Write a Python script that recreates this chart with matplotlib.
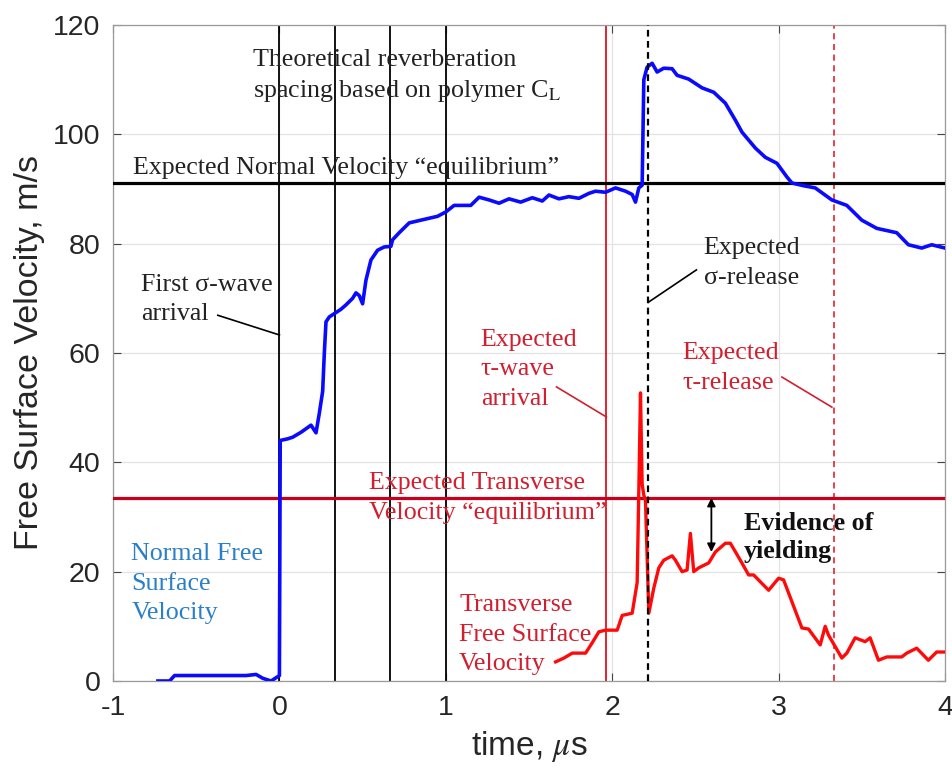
import matplotlib
matplotlib.use("Agg")
import matplotlib.pyplot as plt

plt.rcParams["mathtext.fontset"] = "stix"

# Normal free surface velocity (blue)
normal_t = [-0.73, -0.66, -0.63, -0.5, -0.3, -0.2, -0.14, -0.1, -0.05, -0.02, 0.0, 0.005,
            0.05, 0.08, 0.13, 0.19, 0.22, 0.24, 0.26, 0.27, 0.28, 0.30, 0.33, 0.37, 0.40,
            0.44, 0.46, 0.48, 0.50, 0.52, 0.55, 0.59, 0.63, 0.67, 0.68, 0.72, 0.78, 0.85,
            0.95, 1.00, 1.05, 1.15, 1.20, 1.26, 1.32, 1.38, 1.45, 1.52, 1.58, 1.62, 1.68,
            1.74, 1.80, 1.86, 1.90, 1.96, 2.02, 2.08, 2.12, 2.14, 2.16, 2.18, 2.19, 2.21,
            2.24, 2.27, 2.31, 2.36, 2.39, 2.46, 2.54, 2.61, 2.68, 2.74, 2.78, 2.86, 2.92,
            2.99, 3.05, 3.08, 3.15, 3.22, 3.32, 3.41, 3.50, 3.59, 3.65, 3.71, 3.78, 3.86,
            3.92, 4.00]
normal_v = [0.0, 0.0, 1.0, 1.0, 1.0, 1.0, 1.2, 0.5, 0.0, 0.6, 1.0, 44.0,
            44.3, 44.6, 45.5, 46.8, 45.4, 49.0, 53.0, 60.0, 65.7, 66.6, 67.2, 68.0, 68.8,
            70.0, 71.0, 70.5, 69.0, 73.3, 77.0, 78.8, 79.4, 79.5, 80.7, 82.0, 83.8, 84.3,
            85.0, 85.8, 87.0, 87.0, 88.5, 88.0, 87.4, 88.2, 87.6, 88.4, 87.8, 88.9, 88.2,
            88.6, 88.3, 89.2, 89.6, 89.4, 90.2, 89.6, 89.0, 87.6, 90.2, 90.7, 110.0, 112.3,
            113.0, 111.4, 112.1, 112.0, 110.8, 110.1, 108.5, 107.7, 105.7, 102.6, 100.4, 97.5, 95.8,
            94.7, 92.2, 91.1, 90.6, 90.2, 88.0, 87.0, 84.3, 82.8, 82.4, 82.0, 79.8, 79.2,
            79.8, 79.2]

# Transverse free surface velocity (red)
trans_t = [1.66, 1.71, 1.76, 1.84, 1.88, 1.92, 1.96, 2.03, 2.06, 2.12, 2.15, 2.16,
           2.17, 2.18, 2.19, 2.20, 2.22, 2.25, 2.28, 2.31, 2.36, 2.38, 2.42, 2.45, 2.47,
           2.49, 2.52, 2.58, 2.62, 2.68, 2.71, 2.77, 2.82, 2.85, 2.94, 3.00, 3.03, 3.14,
           3.18, 3.25, 3.28, 3.30, 3.38, 3.41, 3.46, 3.52, 3.55, 3.60, 3.65, 3.74, 3.77,
           3.83, 3.90, 3.95, 4.00]
trans_v = [3.5, 4.2, 5.1, 5.1, 7.0, 9.0, 9.3, 9.3, 12.0, 12.4, 18.0, 35.0,
           52.7, 36.0, 34.0, 33.0, 12.4, 17.0, 20.7, 22.1, 22.9, 22.1, 20.0, 20.3, 27.0,
           20.0, 20.7, 21.6, 23.6, 25.2, 25.2, 22.1, 19.4, 19.4, 16.6, 18.8, 18.5, 9.7,
           9.5, 6.6, 10.0, 8.4, 4.2, 5.1, 7.9, 7.2, 7.9, 3.8, 4.4, 4.4, 5.1,
           6.0, 3.8, 5.3, 5.3]

reverb_times = [0.0, 1/3, 2/3, 1.0]
normal_equilibrium = 91.1
transverse_equilibrium = 33.5
tau_arrival = 1.965
sigma_release = 2.215
tau_release = 3.335
yield_arrow = (2.596, 33.5, 23.6)

x_ticks = [-1, 0, 1, 2, 3, 4]
y_ticks = [0, 20, 40, 60, 80, 100, 120]

SERIF = ["Liberation Serif", "DejaVu Serif"]
SANS = ["Liberation Sans", "DejaVu Sans"]
TXT_RED = "#d21f2f"
TXT_BLUE = "#2a7fc9"
FS = 18.7
LS = 1.45

fig = plt.figure(figsize=(9.53, 7.67), dpi=100)
ax = fig.add_axes([113/953, 1-681/767, (945-113)/953, (681-25)/767])

ax.set_xlim(-1, 4)
ax.set_ylim(0, 120)
ax.set_xticks(x_ticks)
ax.set_yticks(y_ticks)
ax.set_xticklabels([str(v) for v in x_ticks], fontfamily=SANS, fontsize=20.5, color="#262626")
ax.set_yticklabels([str(v) for v in y_ticks], fontfamily=SANS, fontsize=20.5, color="#262626")
ax.grid(True, color="#e3e3e3", lw=0.9)
ax.set_axisbelow(True)
ax.tick_params(direction="in", top=True, right=True, length=6, width=0.8, color="#444444")
ax.tick_params(axis="x", pad=10)
ax.tick_params(axis="y", pad=9)
for s in ax.spines.values():
    s.set_color("#9a9a9a")
    s.set_linewidth(0.9)

ax.set_xlabel(r"time, $\mu$s", fontfamily=SANS, fontsize=24, color="#262626", labelpad=6)
ax.set_ylabel("Free Surface Velocity, m/s", fontfamily=SANS, fontsize=24.5, color="#262626",
              labelpad=6)

# reference lines
for t in reverb_times:
    ax.axvline(t, color="black", lw=1.3, zorder=2)
ax.axhline(normal_equilibrium, color="black", lw=2.3, zorder=3)
ax.axhline(transverse_equilibrium, color="#c8001e", lw=2.3, zorder=3)
ax.axvline(tau_arrival, color="#e0101e", lw=1.3, zorder=2)
ax.axvline(sigma_release, color="black", lw=1.6, ls=(0, (3, 2)), zorder=5)
ax.axvline(tau_release, color="#e0101e", lw=1.1, ls=(0, (4, 3)), zorder=2)

# measured traces
ax.plot(normal_t, normal_v, color="#0a0aff", lw=2.6, zorder=4, solid_joinstyle="round")
ax.plot(trans_t, trans_v, color="#ff0a0a", lw=2.4, zorder=4, solid_joinstyle="round")

# annotations
ax.text(-0.16, 110.6, "Theoretical reverberation\nspacing based on polymer C$_{\\mathrm{L}}$",
        fontfamily=SERIF, fontsize=FS, color="#222222", va="center", ha="left", linespacing=1.36)
ax.text(-0.88, 93.9, "Expected Normal Velocity \u201cequilibrium\u201d",
        fontfamily=SERIF, fontsize=FS, color="#222222", va="center", ha="left")
ax.text(-0.83, 69.8, "First \u03c3-wave\narrival", fontfamily=SERIF, fontsize=FS,
        color="#222222", va="center", ha="left", linespacing=LS)
ax.plot([-0.37, 0.0], [66.9, 63.3], color="black", lw=1.2)
ax.text(2.55, 76.5, "Expected\n\u03c3-release", fontfamily=SERIF, fontsize=FS,
        color="#222222", va="center", ha="left", linespacing=LS)
ax.plot([2.506, 2.218], [75.2, 69.3], color="black", lw=1.2)

ax.text(1.21, 57.0, "Expected\n\u03c4-wave\narrival", fontfamily=SERIF, fontsize=FS,
        color=TXT_RED, va="center", ha="left", linespacing=LS)
ax.plot([1.665, 1.965], [53.8, 48.3], color=TXT_RED, lw=1.2)
ax.text(2.42, 57.2, "Expected\n\u03c4-release", fontfamily=SERIF, fontsize=FS,
        color=TXT_RED, va="center", ha="left", linespacing=LS)
ax.plot([3.02, 3.32], [55.6, 50.1], color=TXT_RED, lw=1.2)
ax.text(0.54, 33.5, "Expected Transverse\nVelocity \u201cequilibrium\u201d", fontfamily=SERIF,
        fontsize=FS, color=TXT_RED, va="center", ha="left", linespacing=LS)

ax.text(-0.89, 17.8, "Normal Free\nSurface\nVelocity", fontfamily=SERIF, fontsize=FS,
        color=TXT_BLUE, va="center", ha="left", linespacing=LS)
ax.text(1.08, 8.5, "Transverse\nFree Surface\nVelocity", fontfamily=SERIF, fontsize=FS,
        color=TXT_RED, va="center", ha="left", linespacing=LS)

ax.text(2.79, 26.2, "Evidence of\nyielding", fontfamily=SERIF, fontsize=FS, fontweight="bold",
        color="#111111", va="center", ha="left", linespacing=1.3)
ax.annotate("", xy=(yield_arrow[0], yield_arrow[2]), xytext=(yield_arrow[0], yield_arrow[1]),
            arrowprops=dict(arrowstyle="<|-|>", color="black", lw=1.3,
                            mutation_scale=12, shrinkA=0, shrinkB=0))

fig.savefig("out.png", dpi=100)
